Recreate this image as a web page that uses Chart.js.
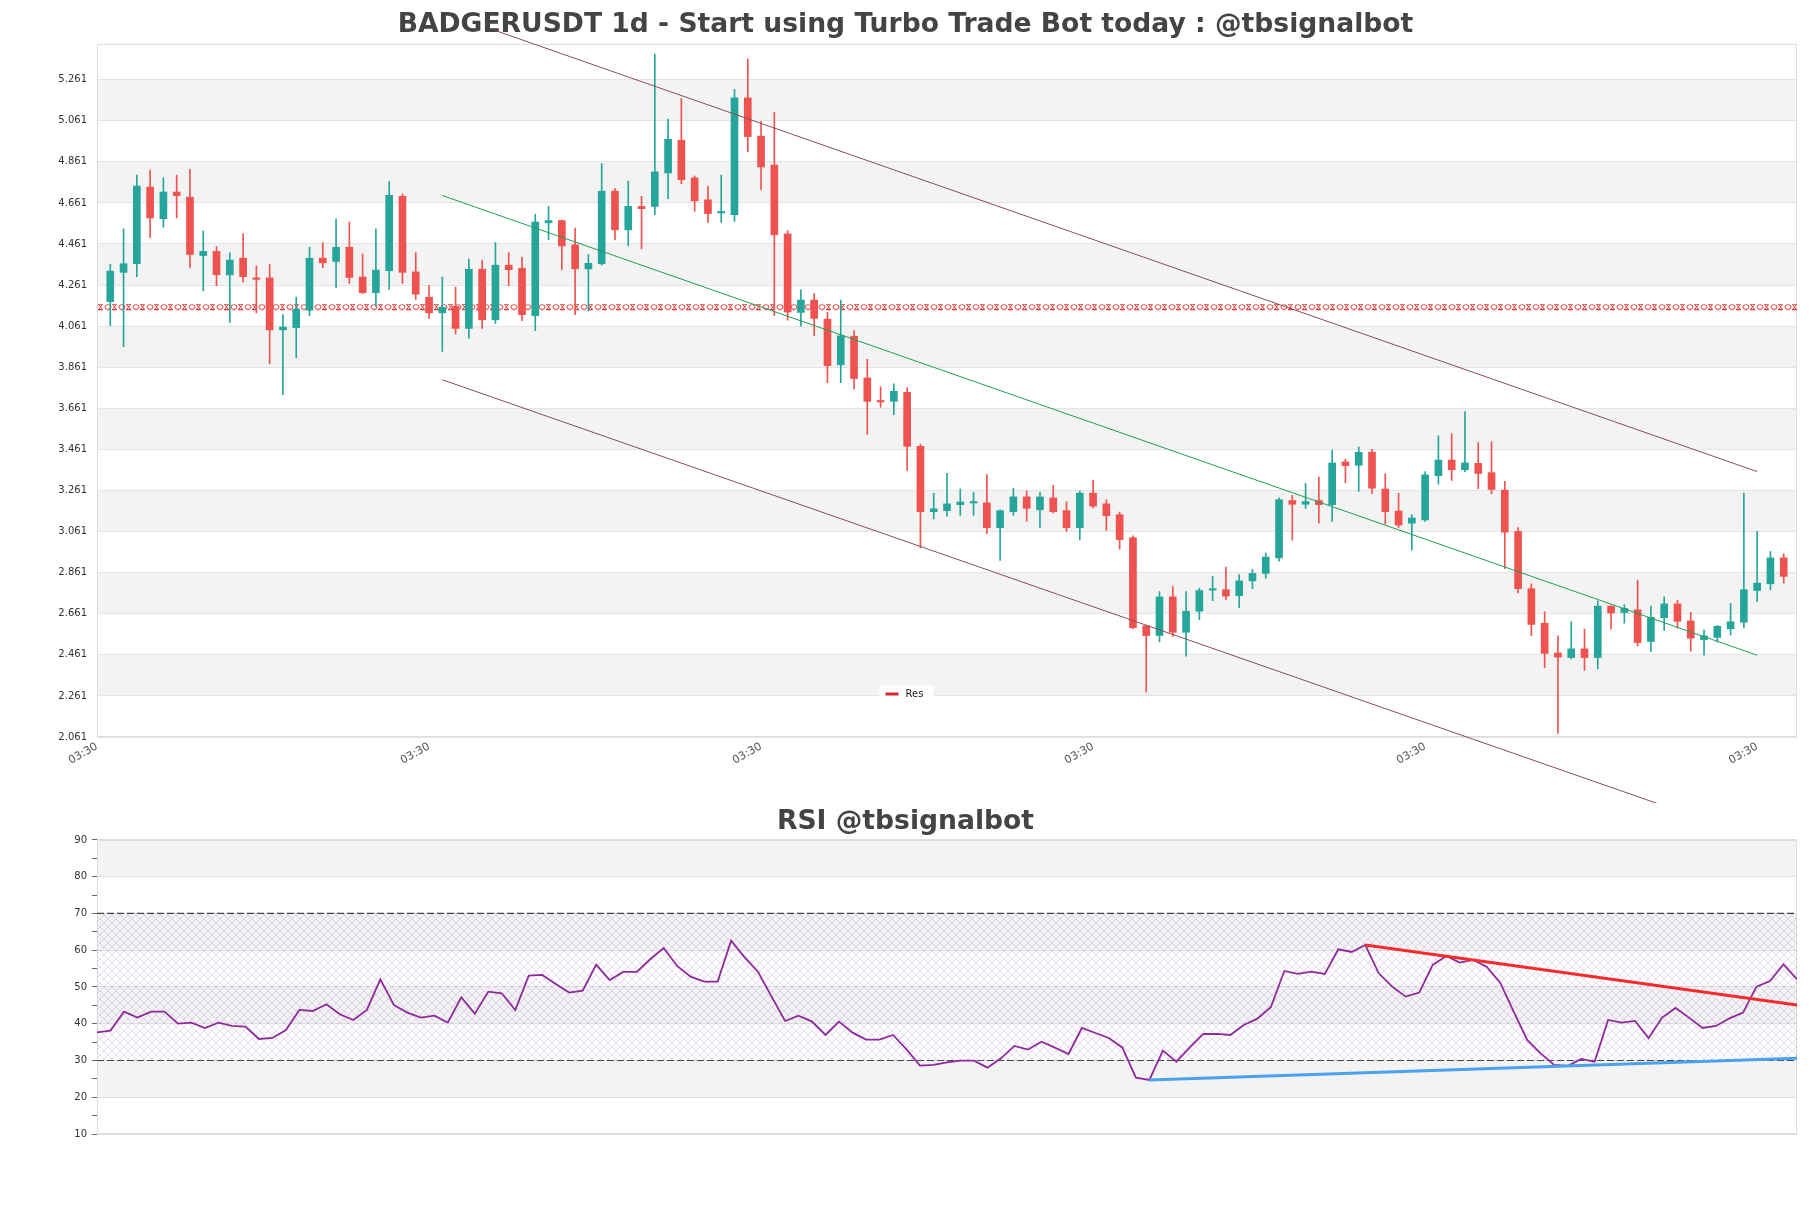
<!DOCTYPE html>
<html>
<head>
<meta charset="utf-8">
<title>BADGERUSDT 1d</title>
<script src="https://cdn.jsdelivr.net/npm/chart.js@4.4.1/dist/chart.umd.min.js"></script>
<style>
  body { margin: 0; background: #fff; }
  #wrap { position: relative; width: 1811px; height: 1208px; }
  #priceChart { position: absolute; left: 0; top: 0; }
  #rsiChart { position: absolute; left: 0; top: 803px; }
</style>
</head>
<body>
<div id="wrap">
  <canvas id="priceChart" width="1811" height="803"></canvas>
  <canvas id="rsiChart" width="1811" height="405"></canvas>
</div>
<script>
// candles, one per day
const opens = [4.180, 4.323, 4.365, 4.738, 4.584, 4.714, 4.689, 4.405, 4.425, 4.311,
  4.392, 4.296, 4.296, 4.043, 4.054, 4.139, 4.392, 4.376, 4.445, 4.300,
  4.224, 4.331, 4.693, 4.325, 4.202, 4.126, 4.157, 4.050, 4.338, 4.092,
  4.358, 4.343, 4.112, 4.564, 4.575, 4.457, 4.340, 4.365, 4.718, 4.530,
  4.644, 4.644, 4.807, 4.966, 4.783, 4.676, 4.612, 4.604, 5.172, 4.986,
  4.845, 4.510, 4.128, 4.188, 4.095, 3.873, 4.012, 3.809, 3.697, 3.695,
  3.739, 3.476, 3.158, 3.163, 3.192, 3.200, 3.201, 3.080, 3.158, 3.230,
  3.167, 3.225, 3.163, 3.080, 3.248, 3.196, 3.143, 3.031, 2.602, 2.555,
  2.743, 2.571, 2.673, 2.776, 2.778, 2.749, 2.821, 2.857, 2.933, 3.212,
  3.194, 3.212, 3.192, 3.400, 3.384, 3.447, 3.268, 3.161, 3.102, 3.118,
  3.333, 3.409, 3.362, 3.393, 3.348, 3.263, 3.062, 2.783, 2.615, 2.470,
  2.448, 2.490, 2.448, 2.698, 2.667, 2.680, 2.526, 2.642, 2.709, 2.626,
  2.535, 2.546, 2.588, 2.620, 2.774, 2.807, 2.933];
const highs = [4.363, 4.535, 4.796, 4.821, 4.783, 4.796, 4.825, 4.524, 4.448, 4.419,
  4.510, 4.354, 4.363, 4.117, 4.202, 4.445, 4.468, 4.582, 4.568, 4.412,
  4.535, 4.765, 4.705, 4.419, 4.260, 4.300, 4.251, 4.387, 4.383, 4.468,
  4.419, 4.396, 4.606, 4.644, 4.578, 4.539, 4.410, 4.852, 4.731, 4.767,
  4.693, 5.386, 5.069, 5.169, 4.792, 4.743, 4.796, 5.214, 5.362, 5.058,
  5.102, 4.526, 4.238, 4.220, 4.128, 4.188, 4.039, 3.900, 3.766, 3.780,
  3.762, 3.487, 3.248, 3.344, 3.268, 3.252, 3.339, 3.167, 3.272, 3.259,
  3.252, 3.286, 3.207, 3.259, 3.312, 3.216, 3.156, 3.040, 2.606, 2.769,
  2.794, 2.769, 2.785, 2.843, 2.888, 2.852, 2.877, 2.957, 3.225, 3.237,
  3.295, 3.326, 3.458, 3.413, 3.473, 3.462, 3.342, 3.248, 3.143, 3.353,
  3.527, 3.538, 3.645, 3.494, 3.498, 3.306, 3.080, 2.807, 2.671, 2.553,
  2.622, 2.586, 2.723, 2.700, 2.705, 2.825, 2.698, 2.743, 2.727, 2.667,
  2.582, 2.604, 2.711, 3.248, 3.062, 2.964, 2.953];
const lows = [4.063, 3.961, 4.302, 4.492, 4.542, 4.588, 4.345, 4.233, 4.258, 4.079,
  4.276, 4.126, 3.878, 3.728, 3.907, 4.112, 4.345, 4.249, 4.269, 4.220,
  4.157, 4.240, 4.269, 4.191, 4.097, 3.938, 4.023, 4.001, 4.050, 4.074,
  4.258, 4.088, 4.039, 4.481, 4.336, 4.117, 4.135, 4.358, 4.481, 4.452,
  4.437, 4.604, 4.682, 4.754, 4.620, 4.566, 4.566, 4.571, 4.910, 4.725,
  4.112, 4.090, 4.061, 4.014, 3.786, 3.786, 3.755, 3.534, 3.666, 3.630,
  3.359, 2.982, 3.123, 3.136, 3.140, 3.140, 3.051, 2.921, 3.140, 3.111,
  3.080, 3.152, 3.062, 3.020, 3.176, 3.067, 2.975, 2.588, 2.280, 2.524,
  2.551, 2.454, 2.633, 2.725, 2.729, 2.691, 2.783, 2.834, 2.917, 3.020,
  3.174, 3.102, 3.111, 3.299, 3.257, 3.245, 3.098, 3.080, 2.971, 3.111,
  3.292, 3.310, 3.353, 3.270, 3.245, 2.881, 2.763, 2.555, 2.399, 2.079,
  2.441, 2.385, 2.392, 2.586, 2.615, 2.504, 2.477, 2.580, 2.591, 2.479,
  2.459, 2.524, 2.557, 2.593, 2.720, 2.778, 2.810];
const closes = [4.329, 4.365, 4.743, 4.588, 4.714, 4.696, 4.410, 4.425, 4.311, 4.383,
  4.302, 4.289, 4.043, 4.057, 4.144, 4.392, 4.369, 4.445, 4.298, 4.224,
  4.334, 4.698, 4.323, 4.217, 4.126, 4.153, 4.050, 4.338, 4.092, 4.358,
  4.336, 4.117, 4.568, 4.575, 4.452, 4.340, 4.367, 4.718, 4.530, 4.644,
  4.633, 4.812, 4.971, 4.774, 4.671, 4.609, 4.618, 5.172, 4.984, 4.836,
  4.506, 4.130, 4.188, 4.099, 3.869, 4.014, 3.806, 3.695, 3.692, 3.744,
  3.476, 3.158, 3.172, 3.196, 3.205, 3.205, 3.080, 3.163, 3.230, 3.174,
  3.230, 3.158, 3.080, 3.248, 3.185, 3.138, 3.022, 2.593, 2.555, 2.743,
  2.571, 2.673, 2.774, 2.780, 2.747, 2.821, 2.857, 2.937, 3.216, 3.194,
  3.207, 3.192, 3.395, 3.382, 3.447, 3.272, 3.158, 3.093, 3.127, 3.337,
  3.409, 3.362, 3.395, 3.344, 3.266, 3.058, 2.783, 2.609, 2.468, 2.450,
  2.490, 2.448, 2.698, 2.665, 2.687, 2.521, 2.644, 2.709, 2.624, 2.542,
  2.553, 2.600, 2.622, 2.778, 2.810, 2.933, 2.843];

const rsi = [37.66, 38.12, 43.29, 41.66, 43.29, 43.29, 40.02, 40.30, 38.84, 40.30,
  39.39, 39.21, 35.85, 36.12, 38.30, 43.74, 43.47, 45.28, 42.56, 41.02,
  43.74, 52.09, 45.10, 43.02, 41.66, 42.20, 40.30, 47.19, 42.74, 48.73,
  48.28, 43.74, 53.08, 53.27, 50.82, 48.46, 49.00, 56.08, 51.90, 54.08,
  54.08, 57.53, 60.61, 55.71, 52.81, 51.45, 51.45, 62.61, 58.07, 54.08,
  47.37, 40.75, 42.20, 40.57, 36.94, 40.57, 37.57, 35.67, 35.67, 36.94,
  33.04, 28.59, 28.78, 29.50, 29.95, 29.95, 28.05, 30.59, 33.95, 32.95,
  35.12, 33.49, 31.77, 38.84, 37.48, 36.12, 33.49, 25.33, 24.69, 32.68,
  29.68, 33.58, 37.21, 37.21, 36.94, 39.66, 41.38, 44.47, 54.35, 53.54,
  54.17, 53.54, 60.25, 59.52, 61.43, 53.72, 50.09, 47.37, 48.46, 55.99,
  58.44, 56.62, 57.35, 55.53, 51.18, 43.29, 35.58, 31.95, 28.78, 28.50,
  30.41, 29.68, 41.02, 40.30, 40.75, 36.03, 41.66, 44.29, 41.66, 38.84,
  39.39, 41.47, 43.02, 50.09, 51.63, 56.17, 52.09];

// trend lines as [index, value] end points
const resLevel = 4.153;
const upperChannel = [[29, 5.50], [124, 3.353]];
const midChannel = [[25, 4.697], [124, 2.459]];
const lowerChannel = [[25, 3.80], [124, 1.568]];
const rsiResistance = [[94, 61.43], [126, 45.10]];
const rsiSupport = [[78, 24.69], [126, 30.59]];
const rsiUpper = 70;
const rsiLower = 30;

// axis ticks
const priceTicks = [2.061, 2.261, 2.461, 2.661, 2.861, 3.061, 3.261, 3.461, 3.661,
  3.861, 4.061, 4.261, 4.461, 4.661, 4.861, 5.061, 5.261];
const xTickPos = [-1, 24, 49, 74, 99, 124];
const xTickLabels = ["03:30", "03:30", "03:30", "03:30", "03:30", "03:30"];
const rsiTicks = [10, 20, 30, 40, 50, 60, 70, 80, 90];

const GREEN = "#26a69a";
const RED = "#ef5350";
const FONT = "'DejaVu Sans', sans-serif";

Chart.defaults.font.family = FONT;
Chart.defaults.color = "#333";

const idx = opens.map((_, i) => i);
const candleColor = idx.map((i) => (closes[i] >= opens[i] ? GREEN : RED));
const pts = (arr) => arr.map(([x, y]) => ({ x, y }));

// grey bands between every other tick + light frame
const bandsPlugin = {
  id: "bands",
  beforeDraw(chart, args, opts) {
    const { ctx, chartArea: a } = chart;
    const y = chart.scales.y;
    const t = opts.ticks;
    ctx.save();
    ctx.fillStyle = "#f3f3f3";
    for (let k = t.length - 2; k >= 0; k -= 2) {
      const top = y.getPixelForValue(t[k + 1]);
      const bot = y.getPixelForValue(t[k]);
      ctx.fillRect(a.left, top, a.right - a.left, bot - top);
    }
    ctx.restore();
  },
  beforeDatasetsDraw(chart) {
    const { ctx, chartArea: a } = chart;
    ctx.save();
    ctx.strokeStyle = "#dddddd";
    ctx.lineWidth = 1;
    ctx.strokeRect(a.left + 0.5, a.top + 0.5, a.right - a.left - 1, a.bottom - a.top - 1);
    ctx.restore();
  },
};

// chain-looking pattern used for the Res line
const chainTile = document.createElement("canvas");
chainTile.width = 14;
chainTile.height = 6;
(function () {
  const g = chainTile.getContext("2d");
  g.strokeStyle = "#e53935";
  g.lineWidth = 1;
  g.beginPath();
  g.moveTo(0, 0.5); g.lineTo(5, 0.5);
  g.moveTo(0, 5.5); g.lineTo(5, 5.5);
  g.moveTo(0.5, 0.5); g.lineTo(4.5, 5.5);
  g.moveTo(4.5, 0.5); g.lineTo(0.5, 5.5);
  g.stroke();
  g.beginPath();
  g.ellipse(10, 3, 3, 2.4, 0, 0, Math.PI * 2);
  g.stroke();
})();
const priceCtx = document.getElementById("priceChart").getContext("2d");
const chainPattern = priceCtx.createPattern(chainTile, "repeat");

const resPlugin = {
  id: "resLine",
  beforeDatasetsDraw(chart) {
    const y = Math.round(chart.scales.y.getPixelForValue(resLevel));
    chainPattern.setTransform(new DOMMatrix().translate(0, y - 3));
  },
  afterDraw(chart) {
    const ds = chart.data.datasets.find((d) => d.label === "Res");
    const { ctx, chartArea: a } = chart;
    const cx = chart.width / 2;
    const cy = a.bottom - 43;
    ctx.save();
    ctx.fillStyle = "rgba(255,255,255,0.9)";
    ctx.fillRect(cx - 26, cy - 9, 54, 18);
    ctx.strokeStyle = "#d62728";
    ctx.lineWidth = 3;
    ctx.beginPath();
    ctx.moveTo(cx - 20, cy);
    ctx.lineTo(cx - 7, cy);
    ctx.stroke();
    ctx.fillStyle = "#222";
    ctx.font = "10px " + FONT;
    ctx.textBaseline = "middle";
    ctx.fillText(ds.label, cx, cy);
    ctx.restore();
  },
};

new Chart(priceCtx, {
  type: "bar",
  plugins: [bandsPlugin, resPlugin],
  data: {
    datasets: [
      {
        type: "line", label: "upper", data: pts(upperChannel),
        borderColor: "#8a4b5e", borderWidth: 1, pointRadius: 0, clip: false, order: 0,
      },
      {
        type: "line", label: "mid", data: pts(midChannel),
        borderColor: "#1f9e55", borderWidth: 1, pointRadius: 0, clip: false, order: 0,
      },
      {
        type: "line", label: "lower", data: pts(lowerChannel),
        borderColor: "#8a4b5e", borderWidth: 1, pointRadius: 0, clip: false, order: 0,
      },
      {
        type: "bar", label: "body",
        data: idx.map((i) => ({ x: i, y: [opens[i], closes[i]] })),
        backgroundColor: candleColor, barThickness: 7, minBarLength: 1.5,
        grouped: false, order: 2,
      },
      {
        type: "bar", label: "wick",
        data: idx.map((i) => ({ x: i, y: [lows[i], highs[i]] })),
        backgroundColor: candleColor, barThickness: 1, grouped: false, order: 3,
      },
      {
        type: "line", label: "Res",
        data: [{ x: -1, y: resLevel }, { x: 127, y: resLevel }],
        borderColor: chainPattern, borderWidth: 6, pointRadius: 0, order: 4,
      },
    ],
  },
  options: {
    responsive: false,
    animation: false,
    events: [],
    layout: { padding: { left: 14, right: 14, top: 0, bottom: 0 } },
    plugins: {
      legend: { display: false },
      tooltip: { enabled: false },
      bands: { ticks: priceTicks },
      title: {
        display: true,
        text: "BADGERUSDT 1d - Start using Turbo Trade Bot today : @tbsignalbot",
        color: "#444",
        font: { size: 26.6, weight: "bold", family: FONT, lineHeight: 1.2 },
        padding: { top: 9, bottom: 3 },
      },
    },
    scales: {
      x: {
        type: "linear",
        min: -1,
        max: 127,
        offset: false,
        grid: { display: false, drawTicks: false },
        border: { display: false },
        afterBuildTicks: (scale) => {
          scale.ticks = xTickPos.map((v) => ({ value: v }));
        },
        afterFit: (scale) => { scale.height = 66; },
        ticks: {
          color: "#555",
          font: { size: 11 },
          minRotation: 30,
          maxRotation: 30,
          padding: 3,
          callback: (v, i) => xTickLabels[i],
        },
      },
      y: {
        type: "linear",
        min: 2.061,
        max: 5.435,
        grid: { color: "#e4e4e4", drawTicks: false },
        border: { display: false },
        afterBuildTicks: (scale) => {
          scale.ticks = priceTicks.map((v) => ({ value: v }));
        },
        afterFit: (scale) => { scale.width = 83; },
        ticks: {
          color: "#333",
          font: { size: 10 },
          padding: 10,
          callback: (v) => Number(v).toFixed(3),
        },
      },
    },
  },
});

// RSI panel
const hatchTile = document.createElement("canvas");
hatchTile.width = 8;
hatchTile.height = 8;
(function () {
  const g = hatchTile.getContext("2d");
  g.strokeStyle = "rgba(190,160,210,0.55)";
  g.lineWidth = 0.7;
  g.beginPath();
  g.moveTo(0, 0); g.lineTo(8, 8);
  g.moveTo(8, 0); g.lineTo(0, 8);
  g.stroke();
})();
const rsiCtx = document.getElementById("rsiChart").getContext("2d");
const hatchPattern = rsiCtx.createPattern(hatchTile, "repeat");
const lastIdx = rsi.length - 1;

new Chart(rsiCtx, {
  type: "line",
  plugins: [bandsPlugin],
  data: {
    datasets: [
      {
        label: "RSI",
        data: rsi.map((v, i) => ({ x: i, y: v })),
        borderColor: "#8e2a9c", borderWidth: 1.8, pointRadius: 0, tension: 0, order: 1,
      },
      {
        label: "resistance", data: pts(rsiResistance),
        borderColor: "#f42c2c", borderWidth: 3, pointRadius: 0, order: 0,
      },
      {
        label: "support", data: pts(rsiSupport),
        borderColor: "#4aa2ee", borderWidth: 3, pointRadius: 0, order: 0,
      },
      {
        label: "70", data: [{ x: 0, y: rsiUpper }, { x: lastIdx, y: rsiUpper }],
        borderColor: "#444", borderWidth: 1.2, borderDash: [7, 3], pointRadius: 0,
        fill: "+1", backgroundColor: hatchPattern, order: 3,
      },
      {
        label: "30", data: [{ x: 0, y: rsiLower }, { x: lastIdx, y: rsiLower }],
        borderColor: "#444", borderWidth: 1.2, borderDash: [7, 3], pointRadius: 0,
        fill: false, order: 3,
      },
    ],
  },
  options: {
    responsive: false,
    animation: false,
    events: [],
    layout: { padding: { left: 14, right: 14, top: 0, bottom: 74 } },
    plugins: {
      legend: { display: false },
      tooltip: { enabled: false },
      bands: { ticks: rsiTicks },
      title: {
        display: true,
        text: "RSI @tbsignalbot",
        color: "#444",
        font: { size: 26.6, weight: "bold", family: FONT, lineHeight: 1.2 },
        padding: { top: 3, bottom: 2 },
      },
    },
    scales: {
      x: { type: "linear", min: 0, max: lastIdx, display: false },
      y: {
        min: 10,
        max: 90,
        border: { display: false },
        grid: {
          color: (c) => (c.tick && c.tick.value % 10 === 0 ? "#dedede" : "rgba(0,0,0,0)"),
          tickColor: "#666",
          tickLength: 5,
        },
        afterFit: (scale) => { scale.width = 83; },
        ticks: {
          stepSize: 5,
          color: "#333",
          font: { size: 10 },
          padding: 5,
          callback: (v) => (v % 10 === 0 ? v : ""),
        },
      },
    },
  },
});
</script>
</body>
</html>
